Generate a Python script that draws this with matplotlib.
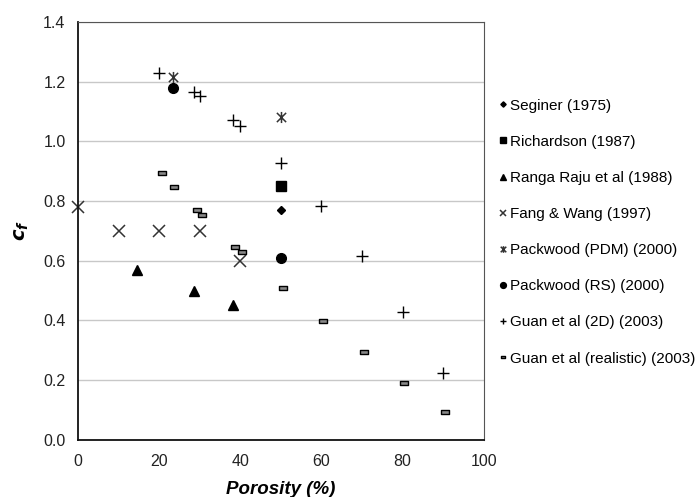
import matplotlib.pyplot as plt
from matplotlib.path import Path
import numpy as np

plt.rcParams['font.family'] = ['Liberation Sans', 'DejaVu Sans']

# data (porosity %, c_f)
seginer_x = [50]
seginer_y = [0.77]
richardson_x = [50]
richardson_y = [0.85]
ranga_x = [14.5, 28.6, 38.3]
ranga_y = [0.57, 0.50, 0.45]
fang_x = [0, 10, 20, 30, 40]
fang_y = [0.78, 0.70, 0.70, 0.70, 0.60]
pdm_x = [23.3, 50]
pdm_y = [1.215, 1.082]
rs_x = [23.3, 50]
rs_y = [1.18, 0.61]
guan2d_x = [20, 28.6, 30, 38.3, 40, 50, 60, 70, 80, 90]
guan2d_y = [1.23, 1.166, 1.152, 1.072, 1.052, 0.927, 0.784, 0.616, 0.427, 0.223]
guanreal_x = [20.6, 23.6, 29.2, 30.6, 38.8, 40.5, 50.4, 60.4, 70.4, 80.3, 90.4]
guanreal_y = [0.893, 0.848, 0.770, 0.753, 0.647, 0.628, 0.51, 0.399, 0.294, 0.192, 0.093]

# Excel-style star: x with a vertical bar
star = Path([(-1, -1), (1, 1), (-1, 1), (1, -1), (0, -1.2), (0, 1.2)],
            [Path.MOVETO, Path.LINETO, Path.MOVETO, Path.LINETO, Path.MOVETO, Path.LINETO])
dash = Path([(-1, -0.5), (1, -0.5), (1, 0.5), (-1, 0.5), (-1, -0.5)],
            [Path.MOVETO, Path.LINETO, Path.LINETO, Path.LINETO, Path.CLOSEPOLY])

fig = plt.figure(figsize=(6.97, 4.97), dpi=100)
ax = fig.add_axes([0.112, 0.115, 0.582, 0.841])

ax.plot(seginer_x, seginer_y, 'D', color='black', ms=4.5, label='Seginer (1975)')
ax.plot(richardson_x, richardson_y, 's', color='black', ms=6.5, label='Richardson (1987)')
ax.plot(ranga_x, ranga_y, '^', color='black', ms=6.5, label='Ranga Raju et al (1988)')
ax.plot(fang_x, fang_y, 'x', color='#333333', ms=8, mew=1.1, clip_on=False,
        label='Fang & Wang (1997)')
ax.plot(pdm_x, pdm_y, ls='none', marker=star, color='#333333', ms=8, mew=1.1,
        label='Packwood (PDM) (2000)')
ax.plot(rs_x, rs_y, 'o', color='black', ms=7, label='Packwood (RS) (2000)')
ax.plot(guan2d_x, guan2d_y, '+', color='black', ms=8, mew=1.0, label='Guan et al (2D) (2003)')
ax.plot(guanreal_x, guanreal_y, ls='none', marker=dash, mfc='#888888', mec='black',
        ms=6, mew=1.0, label='Guan et al (realistic) (2003)')

ax.set_xlim(0, 100)
ax.set_ylim(0, 1.4)
ax.set_xticks(np.arange(0, 101, 20))
ax.set_yticks(np.arange(0, 1.41, 0.2))
ax.set_yticklabels([f'{v:.1f}' for v in np.arange(0, 1.41, 0.2)])
ax.tick_params(length=0, labelsize=11.5, colors='#222222')
ax.tick_params(axis='x', pad=10)
ax.tick_params(axis='y', pad=9)
ax.yaxis.grid(True, color='#c8c8c8', lw=1)
ax.set_axisbelow(True)
for side in ['top', 'right']:
    ax.spines[side].set_color('#555555')
    ax.spines[side].set_linewidth(0.8)
for side in ['left', 'bottom']:
    ax.spines[side].set_color('#111111')
    ax.spines[side].set_linewidth(1.3)

ax.set_xlabel('Porosity (%)', fontsize=13.5, fontweight='bold', style='italic', labelpad=9)
ax.set_ylabel(r'$\mathbfit{c_f}$', fontsize=14, labelpad=9)

fig.legend(loc='upper left', bbox_to_anchor=(0.708, 0.814), frameon=False,
           fontsize=11, handlelength=0.5, handletextpad=0.2, labelspacing=1.45,
           markerscale=0.6, borderaxespad=0)

fig.savefig('out.png', dpi=100)
